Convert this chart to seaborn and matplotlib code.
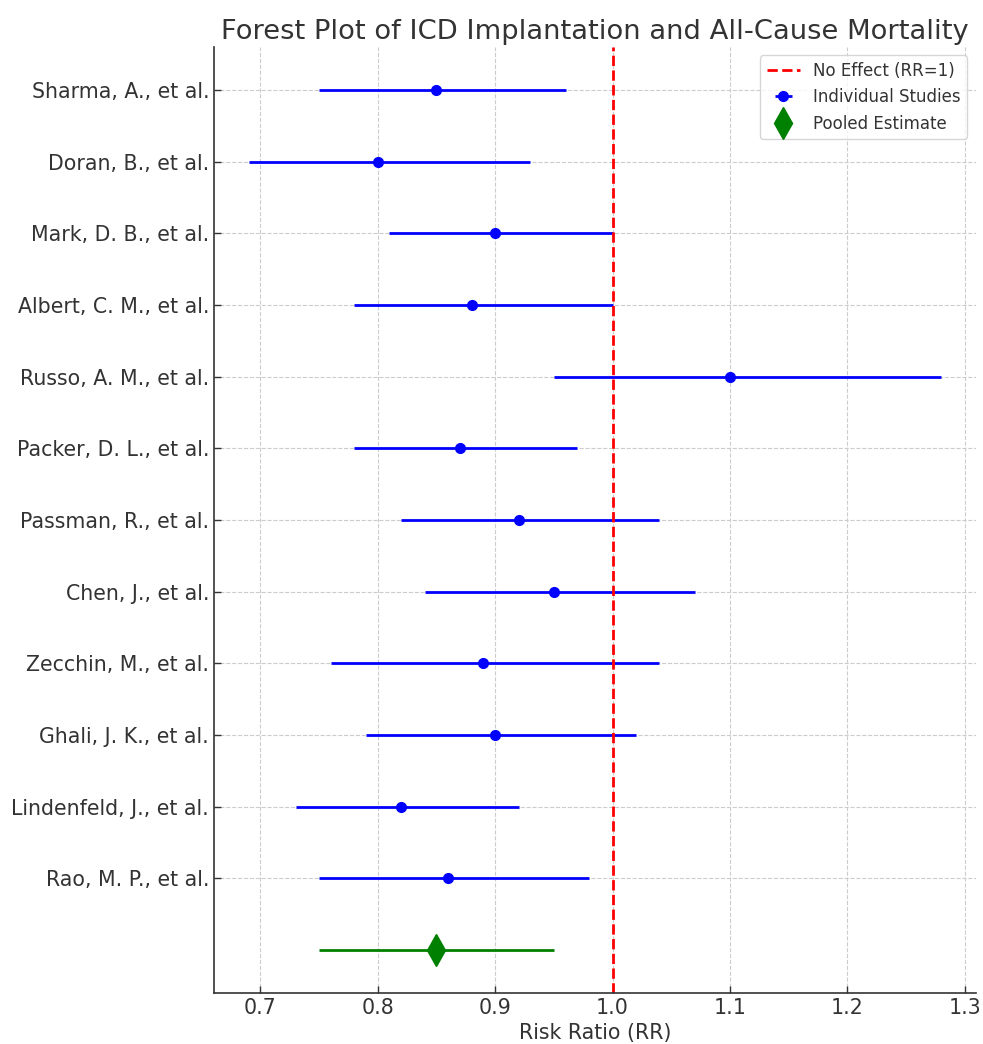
import matplotlib
matplotlib.use('Agg')
import matplotlib.pyplot as plt
import seaborn as sns
import pandas as pd

# study data
studies = ['Sharma, A., et al.', 'Doran, B., et al.', 'Mark, D. B., et al.',
           'Albert, C. M., et al.', 'Russo, A. M., et al.', 'Packer, D. L., et al.',
           'Passman, R., et al.', 'Chen, J., et al.', 'Zecchin, M., et al.',
           'Ghali, J. K., et al.', 'Lindenfeld, J., et al.', 'Rao, M. P., et al.']
rr = [0.85, 0.80, 0.90, 0.88, 1.10, 0.87, 0.92, 0.95, 0.89, 0.90, 0.82, 0.86]
ci_low = [0.75, 0.69, 0.81, 0.78, 0.95, 0.78, 0.82, 0.84, 0.76, 0.79, 0.73, 0.75]
ci_high = [0.96, 0.93, 1.00, 1.00, 1.28, 0.97, 1.04, 1.07, 1.04, 1.02, 0.92, 0.98]

pooled_rr = 0.85
pooled_low = 0.75
pooled_high = 0.95

df = pd.DataFrame({'study': studies, 'rr': rr, 'low': ci_low, 'high': ci_high})
df['pos'] = range(len(df))

sns.set_style('whitegrid')
plt.rcParams['font.family'] = ['DejaVu Sans']
plt.rcParams['text.color'] = '#333333'
plt.rcParams['axes.labelcolor'] = '#333333'
plt.rcParams['xtick.color'] = '#333333'
plt.rcParams['ytick.color'] = '#333333'

fig = plt.figure(figsize=(9.83, 10.44), dpi=100)
ax = fig.add_axes([0.2177, 0.049, 0.775, 0.906])

ax.errorbar(df['rr'], df['pos'],
            xerr=[df['rr'] - df['low'], df['high'] - df['rr']],
            fmt='o', color='blue', ecolor='blue', elinewidth=2, markersize=7,
            label='Individual Studies')
ax.errorbar([pooled_rr], [len(df)],
            xerr=[[pooled_rr - pooled_low], [pooled_high - pooled_rr]],
            fmt='d', color='green', ecolor='green', elinewidth=2, markersize=16,
            label='Pooled Estimate')
ax.axvline(1, color='red', linestyle='--', linewidth=2, label='No Effect (RR=1)')

ax.set_yticks(df['pos'])
ax.set_yticklabels(df['study'])
ax.invert_yaxis()
ax.tick_params(axis='both', labelsize=14.8, direction='in', length=5, width=1,
               left=True, bottom=True, color='#333333')

ax.grid(True, linestyle='--', color='#cccccc', linewidth=0.8)
sns.despine(ax=ax)
for s in ['left', 'bottom']:
    ax.spines[s].set_color('#333333')
    ax.spines[s].set_linewidth(1.2)

ax.set_xlabel('Risk Ratio (RR)', fontsize=14.8, labelpad=4)
ax.set_title('Forest Plot of ICD Implantation and All-Cause Mortality', fontsize=19.7)

h, l = ax.get_legend_handles_labels()
order = [l.index('No Effect (RR=1)'), l.index('Individual Studies'), l.index('Pooled Estimate')]
ax.legend([h[i] for i in order], [l[i] for i in order], loc='upper right', fontsize=12,
          frameon=True)

fig.savefig('out.png', dpi=100)
